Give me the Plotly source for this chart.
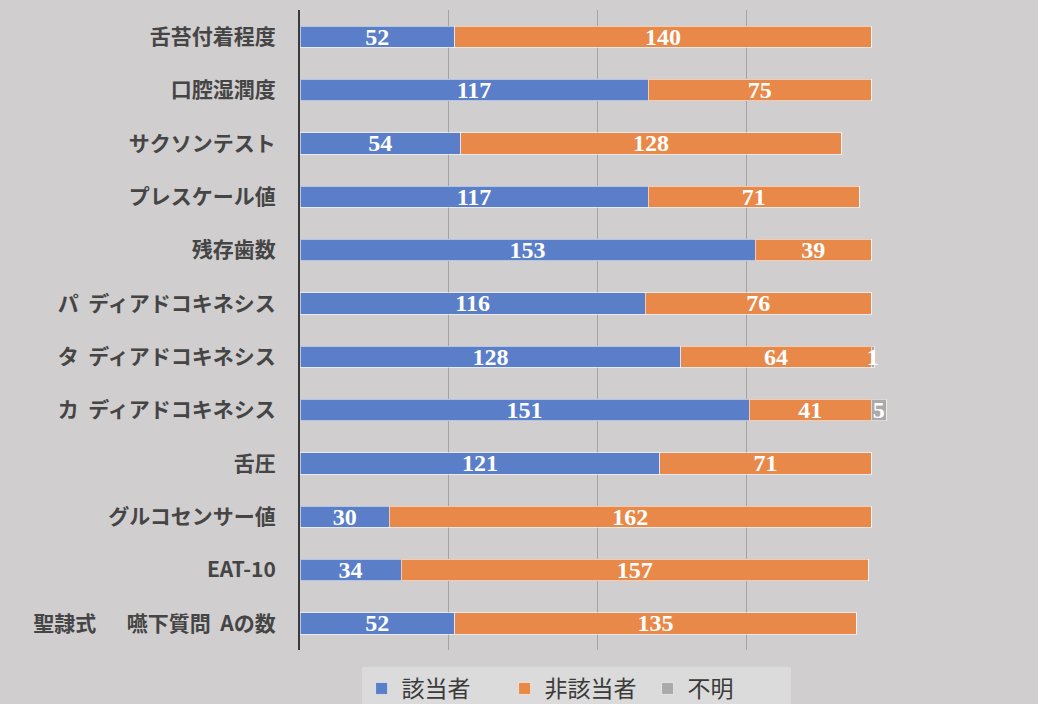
import plotly.graph_objects as go

categories = [
    "舌苔付着程度",
    "口腔湿潤度",
    "サクソンテスト",
    "プレスケール値",
    "残存歯数",
    "パ  ディアドコキネシス",
    "タ  ディアドコキネシス",
    "カ  ディアドコキネシス",
    "舌圧",
    "グルコセンサー値",
    "EAT-10",
    "聖隷式　  嚥下質問  Aの数",
]
applicable = [52, 117, 54, 117, 153, 116, 128, 151, 121, 30, 34, 52]
not_applicable = [140, 75, 128, 71, 39, 76, 64, 41, 71, 162, 157, 135]
unknown = [0, 0, 0, 0, 0, 0, 1, 5, 0, 0, 0, 0]

series = [
    ("該当者", applicable, "#5a7ec8"),
    ("非該当者", not_applicable, "#e8894a"),
    ("不明", unknown, "#aaaaaa"),
]

fig = go.Figure()
for name, vals, color in series:
    fig.add_trace(go.Bar(
        y=categories, x=vals, name=name, orientation="h",
        marker=dict(color=color, line=dict(color="rgba(255,255,255,0.55)", width=1)),
        text=[str(v) if v else "" for v in vals],
        textposition="inside", insidetextanchor="middle",
        constraintext="none", textangle=0,
        textfont=dict(family="Liberation Serif", size=24, color="white", weight="bold"),
        cliponaxis=False,
    ))

fig.update_layout(
    barmode="stack",
    bargap=0.6,
    width=1038, height=704,
    margin=dict(l=300, r=143, t=10, b=54),
    paper_bgcolor="#d0cecf",
    plot_bgcolor="#d0cecf",
    font=dict(family="Noto Sans CJK JP", color="#333333"),
    legend=dict(
        orientation="h", xref="container", yref="container",
        x=0.555, xanchor="center", y=1 - 667 / 704, yanchor="top",
        bgcolor="#dcdbdb", font=dict(size=23, color="#3a3a3a"),
        traceorder="normal", itemwidth=30, entrywidth=98,
    ),
    xaxis=dict(range=[0, 200], dtick=50, showticklabels=False, showgrid=True,
               gridcolor="#a3a3a3", gridwidth=1, zeroline=False, ticks=""),
    yaxis=dict(autorange="reversed", showline=True, linecolor="#3a3a3a", linewidth=2,
               ticks="", ticklabelstandoff=18,
               tickfont=dict(size=21, color="#454545", family="Noto Sans CJK JP", weight="bold")),
    uniformtext=dict(mode=False),
)

fig.write_html("out.html")
